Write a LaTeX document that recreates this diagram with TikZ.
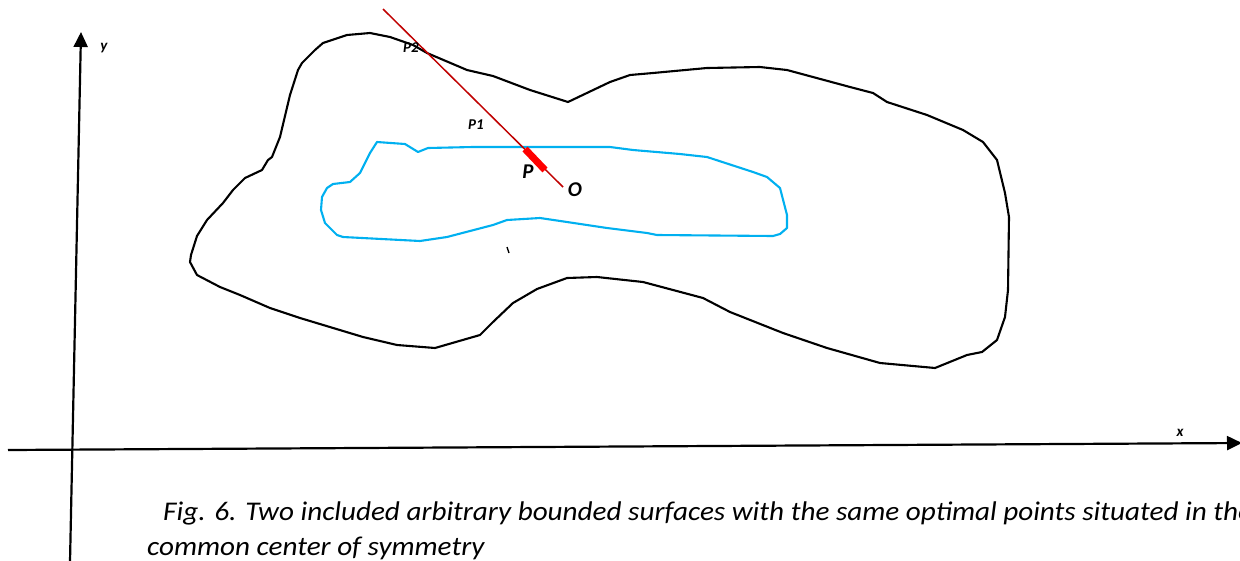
\documentclass[tikz,border=0pt]{standalone}
\usepackage{fontspec}
\setmainfont{Carlito}
\newfontfamily\capfont[FakeStretch=1.08]{Carlito}
\usetikzlibrary{arrows.meta}
\definecolor{innerblue}{RGB}{0,176,240}
\definecolor{raydark}{RGB}{192,0,0}
\begin{document}
\begin{tikzpicture}[x=1pt,y=-1pt,
  axis/.style={line width=2.2pt,-{Triangle[length=15pt,width=14pt]}},
  outer/.style={line width=2.1pt,line join=round},
  inner/.style={innerblue,line width=2.1pt,line join=round},
  ray/.style={raydark,line width=1.5pt},
  seg/.style={red,line width=7pt},
  lab/.style={font=\fontsize{15}{15}\selectfont\bfseries\itshape,inner sep=0pt},
  biglab/.style={font=\fontsize{21}{21}\selectfont\bfseries\itshape,inner sep=0pt},
  captext/.style={font=\capfont\fontsize{27}{35}\selectfont\itshape,inner sep=0pt,anchor=base west}]
\clip (0,0) rectangle (1240,560);
\fill[white] (0,0) rectangle (1240,560);
% axes
\coordinate (ybot) at (70,562);
\coordinate (ytop) at (81,32);
\coordinate (xleft) at (8,450);
\coordinate (xright) at (1242,443);
\draw[axis] (ybot) -- (ytop);
\draw[axis] (xleft) -- (xright);
\node[lab] (ylab) at (104,48) {y};
\node[lab] (xlab) at (1180,433) {x};
% outer surface
\draw[outer] (370,33) -- (347,35) -- (323,43) -- (315,50) -- (302,63) -- (298,70)
 -- (290,95) -- (280,137) -- (272,157) -- (268,160) -- (262,170) -- (245,178)
 -- (233,190) -- (223,203) -- (207,220) -- (197,236) -- (191,255) -- (190,262) -- (197,275)
 -- (220,287) -- (240,295) -- (270,308) -- (300,318) -- (363,337) -- (397,345)
 -- (435,348) -- (480,335) -- (493,322) -- (513,303) -- (537,289) -- (567,278)
 -- (597,277) -- (643,282) -- (703,298) -- (730,312) -- (783,333) -- (827,348)
 -- (880,363) -- (935,368) -- (967,355) -- (982,352) -- (997,340) -- (1005,317)
 -- (1008,290) -- (1009,217) -- (1005,193) -- (997,160) -- (983,142) -- (963,130)
 -- (927,115) -- (887,102) -- (873,93) -- (850,87) -- (787,70) -- (760,67)
 -- (707,68) -- (653,73) -- (630,75) -- (610,82) -- (568,102) -- (530,90)
 -- (493,76) -- (467,70) -- (427,53) -- (413,45) -- (390,37) -- cycle;
% inner surface
\draw[inner] (377,142) -- (405,144) -- (418,152) -- (428,148) -- (473,147)
 -- (610,147) -- (633,150) -- (680,154) -- (707,157) -- (753,172) -- (767,177)
 -- (780,188) -- (787,215) -- (787,228) -- (780,234) -- (773,236) -- (657,235)
 -- (647,233) -- (607,228) -- (567,222) -- (540,218) -- (507,220) -- (493,225)
 -- (447,237) -- (420,241) -- (343,237) -- (337,235) -- (325,223) -- (321,210)
 -- (322,197) -- (327,188) -- (333,184) -- (350,182) -- (360,173) -- (370,153) -- cycle;
% ray
\coordinate (rtop) at (383,9);
\coordinate (O) at (563,187);
\coordinate (pa) at (525,149);
\coordinate (pb) at (545,170);
\draw[ray] (rtop) -- (O);
\draw[seg] (pa) -- (pb);
\draw[line width=1.4pt] (507,247) -- (509,253);
\node[lab] (p2) at (411,48) {P2};
\node[lab] (p1) at (476,125) {P1};
\node[biglab] (plab) at (528,172) {P};
\node[biglab] (olab) at (575,190) {O};
% caption
\node[captext] (c1) at (163,520) {Fig. 6. Two included arbitrary bounded surfaces with the same optimal points situated in the};
\node[captext] (c2) at (147,555) {common center of symmetry};
\end{tikzpicture}
\end{document}
